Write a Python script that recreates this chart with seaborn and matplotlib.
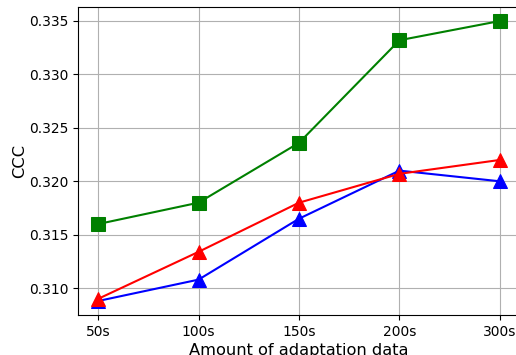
import matplotlib
matplotlib.use("Agg")
import matplotlib.pyplot as plt
import seaborn as sns
import pandas as pd

amounts = ["50s", "100s", "150s", "200s", "300s"]
green_vals = [0.3160, 0.3180, 0.3236, 0.3332, 0.3350]
red_vals = [0.3090, 0.3134, 0.3180, 0.3207, 0.3220]
blue_vals = [0.3088, 0.3108, 0.3165, 0.3210, 0.3200]

fig = plt.figure(figsize=(5.16, 3.55), dpi=100)
ax = fig.add_axes([78/516, 1-315/355, (520-78)/516, (315-7)/355])

series = [("blue", blue_vals, "^"), ("red", red_vals, "^"), ("green", green_vals, "s")]
for color, vals, marker in series:
    df = pd.DataFrame({"x": amounts, "y": vals})
    sns.lineplot(data=df, x="x", y="y", ax=ax, color=color, marker=marker,
                 markersize=10, linewidth=1.5, markeredgecolor=color)

ax.grid(True, color="#b0b0b0", linewidth=0.8)
ax.set_axisbelow(True)
ax.set_xlabel("Amount of adaptation data", fontsize=11.7, labelpad=3)
ax.set_ylabel("CCC", fontsize=11.7, labelpad=1.5)
ax.set_yticks([0.310, 0.315, 0.320, 0.325, 0.330, 0.335])
ax.tick_params(labelsize=10)

fig.savefig("out.png", dpi=100)
